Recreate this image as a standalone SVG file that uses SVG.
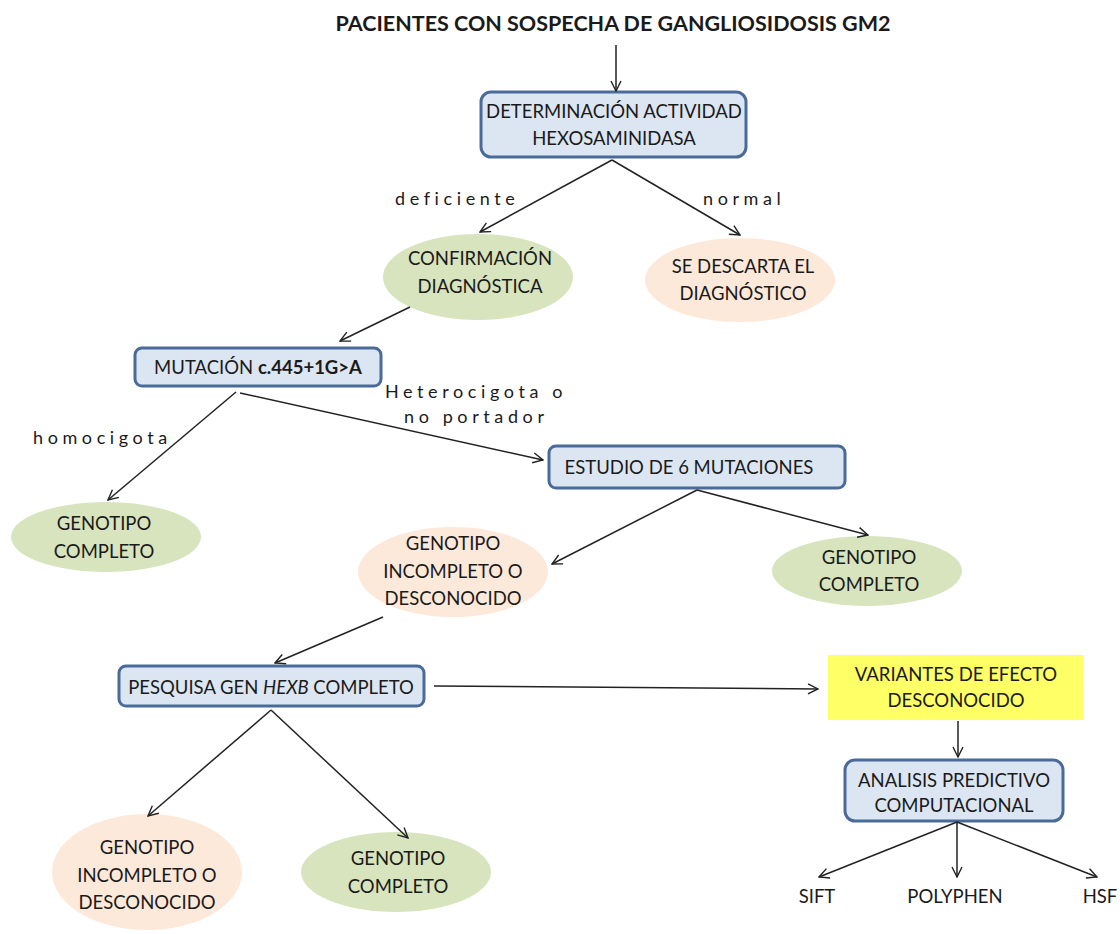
<svg xmlns="http://www.w3.org/2000/svg" width="1120" height="934" viewBox="0 0 1120 934">
  <defs>
    <marker id="arr" viewBox="0 0 12 12" refX="11" refY="6" markerWidth="12" markerHeight="12" markerUnits="userSpaceOnUse" orient="auto">
      <path d="M1,1 L11,6 L1,11" fill="none" stroke="#222" stroke-width="1.4"/>
    </marker>
    <style>
      text { font-family: Lato, "Liberation Sans", sans-serif; fill: #1a1a1a; }
      .t { font-size: 18.5px; text-anchor: middle; }
      .title { font-size: 21.5px; font-weight: bold; text-anchor: middle; }
      .lbl { font-size: 18px; letter-spacing: 4.6px; }
      .box { fill: #dce6f2; stroke: #4a6a9a; stroke-width: 3; }
      .green { fill: #d7e4bd; }
      .peach { fill: #fde9d9; }
      .yellow { fill: #ffff66; }
      .conn line { stroke: #222; stroke-width: 1.5; marker-end: url(#arr); }
    </style>
  </defs>
  <rect width="1120" height="934" fill="#ffffff"/>

  <g id="title">
    <text class="title" x="613" y="31">PACIENTES CON SOSPECHA DE GANGLIOSIDOSIS GM2</text>
  </g>

  <g id="determinacion">
    <rect class="box" x="481" y="92" width="265" height="65" rx="10"/>
    <text class="t" x="614" y="118">DETERMINACIÓN ACTIVIDAD</text>
    <text class="t" x="614" y="145">HEXOSAMINIDASA</text>
  </g>

  <g id="confirmacion">
    <ellipse class="green" cx="478" cy="277" rx="95" ry="43"/>
    <text class="t" x="480" y="265">CONFIRMACIÓN</text>
    <text class="t" x="480" y="293">DIAGNÓSTICA</text>
  </g>

  <g id="descarta">
    <ellipse class="peach" cx="740" cy="280" rx="95" ry="42"/>
    <text class="t" x="743" y="273">SE DESCARTA EL</text>
    <text class="t" x="743" y="300">DIAGNÓSTICO</text>
  </g>

  <g id="mutacion">
    <rect class="box" x="135" y="348" width="246" height="38" rx="7"/>
    <text class="t" x="258" y="374">MUTACIÓN <tspan font-weight="bold">c.445+1G&gt;A</tspan></text>
  </g>

  <g id="completo1">
    <ellipse class="green" cx="106" cy="537" rx="95" ry="35"/>
    <text class="t" x="104" y="530">GENOTIPO</text>
    <text class="t" x="104" y="558">COMPLETO</text>
  </g>

  <g id="estudio">
    <rect class="box" x="549" y="446" width="296" height="42" rx="7"/>
    <text class="t" x="689" y="474">ESTUDIO DE 6 MUTACIONES</text>
  </g>

  <g id="incompleto1">
    <ellipse class="peach" cx="453" cy="572" rx="95" ry="45"/>
    <text class="t" x="453" y="550">GENOTIPO</text>
    <text class="t" x="453" y="578">INCOMPLETO O</text>
    <text class="t" x="453" y="605">DESCONOCIDO</text>
  </g>

  <g id="completo2">
    <ellipse class="green" cx="867" cy="571" rx="95" ry="35"/>
    <text class="t" x="869" y="564">GENOTIPO</text>
    <text class="t" x="869" y="591">COMPLETO</text>
  </g>

  <g id="pesquisa">
    <rect class="box" x="119" y="666" width="305" height="40" rx="7"/>
    <text class="t" x="271" y="694">PESQUISA GEN <tspan font-style="italic">HEXB</tspan> COMPLETO</text>
  </g>

  <g id="variantes">
    <rect class="yellow" x="828" y="655" width="255" height="65"/>
    <text class="t" x="956" y="681">VARIANTES DE EFECTO</text>
    <text class="t" x="956" y="707">DESCONOCIDO</text>
  </g>

  <g id="analisis">
    <rect class="box" x="845" y="760" width="218" height="61" rx="10"/>
    <text class="t" x="954" y="787">ANALISIS PREDICTIVO</text>
    <text class="t" x="954" y="812">COMPUTACIONAL</text>
  </g>

  <g id="incompleto2">
    <ellipse class="peach" cx="147" cy="872" rx="95" ry="58"/>
    <text class="t" x="147" y="854">GENOTIPO</text>
    <text class="t" x="147" y="882">INCOMPLETO O</text>
    <text class="t" x="147" y="909">DESCONOCIDO</text>
  </g>

  <g id="completo3">
    <ellipse class="green" cx="396" cy="872" rx="95" ry="40"/>
    <text class="t" x="398" y="865">GENOTIPO</text>
    <text class="t" x="398" y="893">COMPLETO</text>
  </g>

  <g id="sift"><text class="t" x="817" y="903">SIFT</text></g>
  <g id="polyphen"><text class="t" x="955" y="903">POLYPHEN</text></g>
  <g id="hsf"><text class="t" x="1100" y="903">HSF</text></g>

  <g id="labels">
    <text class="lbl" x="395" y="205">deficiente</text>
    <text class="lbl" x="703" y="205">normal</text>
    <text class="lbl" x="33" y="444">homocigota</text>
    <text class="lbl" x="385" y="398">Heterocigota o</text>
    <text class="lbl" x="404" y="423">no portador</text>
  </g>

  <g id="connectors" class="conn">
    <line x1="616" y1="45" x2="616" y2="91"/>
    <line x1="612" y1="160" x2="480" y2="232"/>
    <line x1="612" y1="160" x2="740" y2="235"/>
    <line x1="410" y1="307" x2="340" y2="341"/>
    <line x1="236" y1="392" x2="108" y2="500"/>
    <line x1="240" y1="393" x2="543" y2="460"/>
    <line x1="697" y1="490" x2="552" y2="564"/>
    <line x1="697" y1="490" x2="868" y2="535"/>
    <line x1="383" y1="617" x2="275" y2="663"/>
    <line x1="434" y1="686" x2="818" y2="689"/>
    <line x1="958" y1="721" x2="958" y2="757"/>
    <line x1="271" y1="710" x2="148" y2="816"/>
    <line x1="271" y1="710" x2="408" y2="838"/>
    <line x1="957" y1="822" x2="819" y2="877"/>
    <line x1="957" y1="822" x2="957" y2="877"/>
    <line x1="957" y1="822" x2="1097" y2="877"/>
  </g>
</svg>
